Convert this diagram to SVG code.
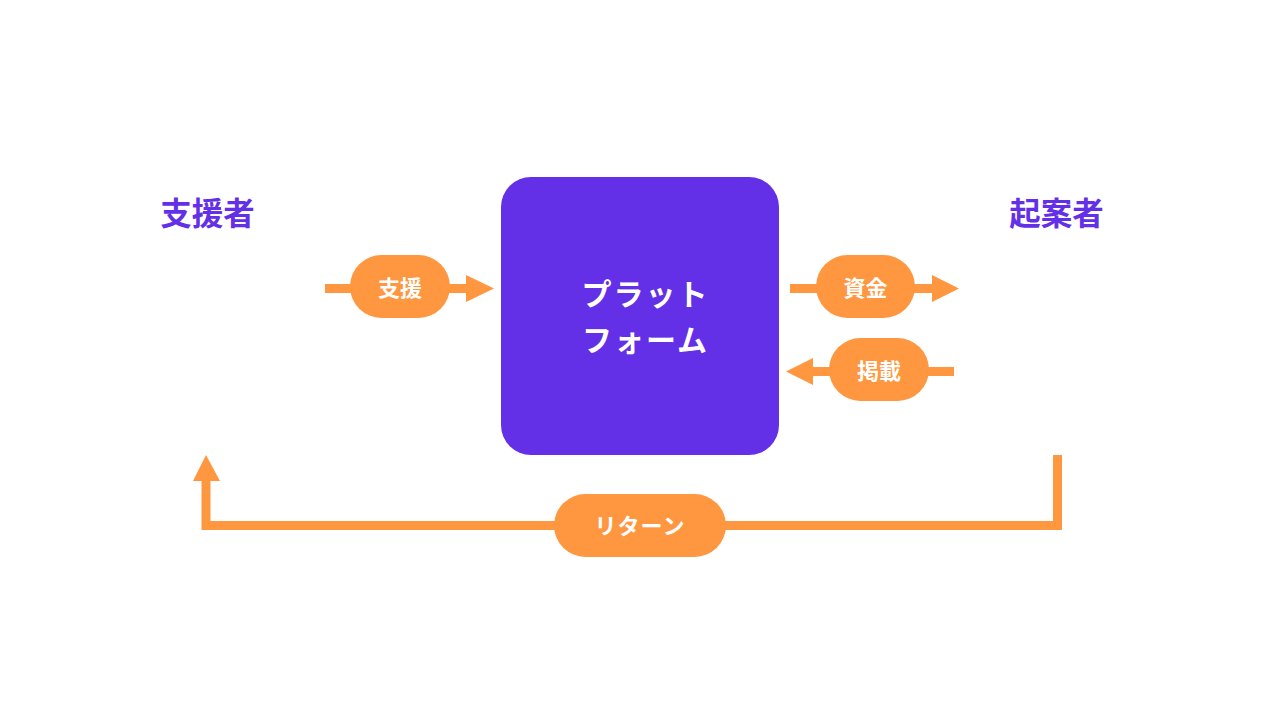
<svg xmlns="http://www.w3.org/2000/svg" width="1280" height="720" viewBox="0 0 1280 720">
  <defs>
    <style>
      .actor { font-family: "Noto Sans CJK JP", "Noto Sans", sans-serif; font-weight: 700; font-size: 31.5px; fill: #6330E8; text-anchor: middle; }
      .core { font-family: "Noto Sans CJK JP", "Noto Sans", sans-serif; font-weight: 700; font-size: 30px; fill: #FFFFFF; text-anchor: middle; letter-spacing: 2px; }
      .pill { fill: #FF9640; }
      .pilltext { font-family: "Noto Sans CJK JP", "Noto Sans", sans-serif; font-weight: 700; font-size: 22px; fill: #FFFFFF; text-anchor: middle; dominant-baseline: central; }
      .line { stroke: #FF9640; stroke-width: 9; fill: none; }
      .head { fill: #FF9640; }
    </style>
  </defs>
  <rect width="1280" height="720" fill="#FFFFFF"/>

  <g id="connectors">
    <line class="line" x1="325" y1="288.5" x2="468" y2="288.5"/>
    <polygon class="head" points="466,275 494,288.5 466,302"/>
    <line class="line" x1="790" y1="288.5" x2="934" y2="288.5"/>
    <polygon class="head" points="932,275 959,288.5 932,302"/>
    <line class="line" x1="954" y1="371.5" x2="811" y2="371.5"/>
    <polygon class="head" points="813,358 786,371.5 813,385"/>
    <polyline class="line" points="1057.5,455 1057.5,525.5 206,525.5 206,478"/>
    <polygon class="head" points="193,481 206,455 220,481"/>
  </g>

  <g id="supporter">
    <text class="actor" x="207.5" y="225">支援者</text>
  </g>
  <g id="creator">
    <text class="actor" x="1056.5" y="225">起案者</text>
  </g>

  <g id="platform">
    <rect x="501" y="177" width="278" height="278" rx="30" fill="#6330E8"/>
    <text class="core" x="645.5" y="305">プラット</text>
    <text class="core" x="645.5" y="351">フォーム</text>
  </g>

  <g id="label-support">
    <rect class="pill" x="350" y="255" width="100" height="63" rx="31.5"/>
    <text class="pilltext" x="400" y="285.5">支援</text>
  </g>
  <g id="label-funds">
    <rect class="pill" x="816" y="255" width="99" height="63" rx="31.5"/>
    <text class="pilltext" x="865.5" y="285.5">資金</text>
  </g>
  <g id="label-listing">
    <rect class="pill" x="829" y="338" width="100" height="63" rx="31.5"/>
    <text class="pilltext" x="879" y="368.5">掲載</text>
  </g>
  <g id="label-return">
    <rect class="pill" x="554" y="494" width="172" height="63" rx="31.5"/>
    <text class="pilltext" x="640" y="523.5" letter-spacing="1">リターン</text>
  </g>
</svg>
